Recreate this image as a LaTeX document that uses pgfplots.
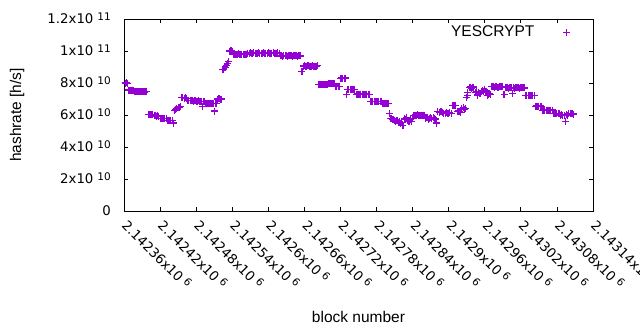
\documentclass[border=0pt]{standalone}
\usepackage{pgfplots}
\pgfplotsset{compat=1.18}
\usepackage{fontspec}
\setmainfont{Liberation Sans}
\newfontfamily\tickfont{DejaVu Sans}
\definecolor{dv}{RGB}{148,0,211}
\newcommand{\xl}[1]{#1x10\hspace{4pt}\raisebox{3.5pt}{\fontsize{10.5}{12}\selectfont 6}}
\newcommand{\yl}[2]{#1x10\hspace{4pt}\raisebox{3.5pt}{\fontsize{10.5}{12}\selectfont #2}}
\begin{document}
\begin{tikzpicture}
\useasboundingbox (-124pt,-119pt) rectangle (516pt,211pt);
\clip (-124pt,-119pt) rectangle (516pt,211pt);
\begin{axis}[
  scale only axis, width=469pt, height=192pt, at={(0pt,0pt)}, anchor=south west,
  xmin=0, xmax=780, ymin=0, ymax=12, clip=false,
  xtick={0,60,...,780},
  xticklabels={\xl{2.14236},\xl{2.14242},\xl{2.14248},\xl{2.14254},\xl{2.1426},\xl{2.14266},\xl{2.14272},\xl{2.14278},\xl{2.14284},\xl{2.1429},\xl{2.14296},\xl{2.14302},\xl{2.14308},\xl{2.14314}},
  ytick={0,2,...,12},
  yticklabels={0,\yl{2}{10},\yl{4}{10},\yl{6}{10},\yl{8}{10},\yl{1}{11},\yl{1.2}{11}},
  tick align=inside, major tick length=4pt, minor tick num=0,
  axis line style={line width=0.8pt},
  every tick/.style={line width=0.8pt, black},
  xticklabel style={font=\tickfont\fontsize{13.3}{15}\selectfont, inner sep=0pt, anchor=base west, xshift=-3pt, yshift=-15pt, rotate=-45},
  yticklabel style={font=\tickfont\fontsize{13.3}{15}\selectfont, inner sep=0pt, anchor=base east, xshift=-13pt, yshift=-4.7pt},
  every axis x label/.style={at={(axis description cs:0.5,0)}, yshift=-106pt, anchor=center},
  every axis y label/.style={at={(axis description cs:0,0.5)}, xshift=-107pt, rotate=90, anchor=center},
  label style={font=\fontsize{15.5}{18}\selectfont},
  xlabel={block number},
  ylabel={hashrate [h/s]},
  legend style={draw=none, fill=none, at={(0.952,0.932)}, anchor=east, font=\fontsize{15.5}{18}\selectfont, inner sep=0pt},
  legend plot pos=right,
  legend image code/.code={\draw[#1] plot coordinates {(30pt,0pt)}; \path (0pt,0pt) (33.5pt,0pt);},
]
\addplot[only marks, mark=+, mark size=3.5pt, color=dv, mark options={line width=1.1pt}] coordinates {
(2,8.0) (4,8.02) (6,7.98)
(8,7.56) (10,7.55) (12,7.54) (14,7.56) (16,7.55)
(18,7.46) (20,7.45) (22,7.44) (24,7.46) (26,7.45) (28,7.44) (30,7.45) (32,7.46) (34,7.44) (36,7.45) (38,7.45)
(40,6.05) (42,6.03) (44,6.02) (46,6.04) (48,6.03) (50,6.0)
(52,5.95) (54,5.93) (56,5.94) (58,5.92)
(60,5.79) (62,5.78) (64,5.77) (66,5.79) (68,5.78) (70,5.76)
(72,5.67) (74,5.66) (76,5.65) (78,5.67) (80,5.66) (82,5.5)
(84,6.3) (86,6.33) (88,6.38) (90,6.45) (92,6.5) (94,6.55)
(96,7.08) (98,7.1) (100,7.05) (102,7.07) (104,7.04)
(106,6.93) (108,6.92) (110,6.9) (112,6.93) (114,6.91)
(116,6.87) (118,6.88) (120,6.86) (122,6.87) (124,6.88) (126,6.86) (128,6.87) (130,6.55) (132,6.87) (134,6.85)
(136,6.72) (138,6.73) (140,6.71) (142,6.72) (144,6.74) (146,6.72) (148,6.71) (150,6.25) (152,6.72) (154,6.73)
(156,7.0) (158,7.02) (160,6.98) (162,7.0)
(164,8.85) (166,8.82) (168,8.95) (170,9.1) (172,9.2) (174,9.32)
(176,10.0) (178,10.02) (180,9.99)
(182,9.8) (184,9.81) (186,9.79) (188,9.8) (190,9.82) (192,9.8) (194,9.79) (196,9.81) (198,9.8) (200,9.8) (202,9.79) (204,9.81)
(206,9.86) (208,9.87) (210,9.88) (212,9.86) (214,9.87) (216,9.88) (218,9.87) (220,9.86) (222,9.87) (224,9.88) (226,9.87) (228,9.86) (230,9.87) (232,9.88) (234,9.87) (236,9.86) (238,9.87) (240,9.88) (242,9.87) (244,9.86) (246,9.87) (248,9.88) (250,9.87) (252,9.86) (254,9.87) (256,9.88) (258,9.86)
(260,9.69) (262,9.7) (264,9.68) (266,9.69) (268,9.7) (270,9.69) (272,9.68) (274,9.69) (276,9.7) (278,9.69) (280,9.68) (282,9.69) (284,9.7) (286,9.69) (288,9.68) (290,9.69) (292,9.7) (294,9.69)
(296,8.7) (298,9.06) (300,9.07) (302,9.05) (304,9.06) (306,9.07) (308,9.06) (310,9.05) (312,9.06) (314,9.07) (316,9.06) (318,9.05) (320,9.06) (322,9.07)
(324,7.9) (326,7.91) (328,7.89) (330,7.9) (332,7.92) (334,7.9) (336,7.89) (338,7.9)
(340,7.95) (342,7.96) (344,7.94) (346,7.95) (348,7.96) (350,7.94)
(352,7.8) (354,7.81) (356,7.79) (358,7.8)
(360,8.3) (362,8.31) (364,8.29) (366,8.3) (368,8.31)
(370,7.3)
(372,7.6) (374,7.61) (376,7.59) (378,7.6) (380,7.61) (382,7.6) (384,7.59)
(386,7.3) (388,7.31) (390,7.29) (392,7.3) (394,7.31) (396,7.3) (398,7.29) (400,7.3) (402,7.31) (404,7.3) (406,7.29) (408,7.3)
(410,6.85) (412,6.86) (414,6.84) (416,6.85) (418,6.86) (420,6.85) (422,6.84) (424,6.85) (426,6.86) (428,6.85)
(430,6.7) (432,6.71) (434,6.69) (436,6.7) (438,6.71) (440,6.7)
(442,6.1) (444,5.78) (446,5.72) (448,5.75) (450,5.68) (452,5.6) (454,5.65) (456,5.55) (458,5.6) (460,5.5) (462,5.55) (464,5.35)
(466,5.8) (468,5.75) (470,5.85) (472,5.65) (474,5.6) (476,5.7) (478,5.6) (480,5.8)
(482,5.95) (484,6.0) (486,5.98) (488,6.02) (490,6.0) (492,5.95) (494,6.0) (496,5.97) (498,6.0) (500,5.95)
(502,5.8) (504,5.85) (506,5.75) (508,5.8) (510,5.82) (512,5.78) (514,5.85) (516,5.8) (518,5.75) (520,5.5)
(522,6.2) (524,6.15) (526,6.22) (528,6.2) (530,6.15) (532,6.1) (534,6.12) (536,6.15) (538,6.1) (540,6.12) (542,6.15) (544,6.1)
(546,6.6) (548,6.58) (550,6.62) (552,6.6) (554,6.2) (556,6.25) (558,6.2) (560,6.15) (562,6.4) (564,6.45) (566,6.35) (568,6.4)
(570,7.08) (571,7.4) (572,7.2) (574,7.7) (576,7.75) (578,7.65) (580,7.7) (582,7.75) (584,7.4) (586,7.45) (588,7.25) (590,7.4) (592,7.35) (594,7.5) (596,7.55) (598,7.5) (600,7.6) (602,7.5) (604,7.2) (606,7.3) (608,7.35) (610,7.28)
(612,7.78) (614,7.8) (616,7.75) (618,7.78) (620,7.8) (622,7.75) (624,7.78) (626,7.8) (628,7.76) (630,7.78) (632,7.3)
(634,7.7) (636,7.72) (638,7.7) (640,7.68) (642,7.7) (644,7.72) (646,7.35) (648,7.7) (650,7.68) (652,7.7) (654,7.72) (656,7.7) (658,7.68) (660,7.7) (662,7.72) (664,7.7) (666,7.69)
(668,7.2) (670,7.22) (672,7.23) (674,7.21) (676,7.22) (678,7.23) (680,7.22) (682,7.21)
(684,6.55) (686,6.56) (688,6.54) (690,6.55) (692,6.56) (694,6.55)
(696,6.3) (698,6.31) (700,6.29) (702,6.3) (704,6.31) (706,6.3) (708,6.29) (710,6.3) (712,6.31)
(714,6.1) (716,6.11) (718,6.09) (720,6.1) (722,6.11) (724,6.1)
(726,6.0) (728,6.01) (730,5.99) (732,6.0) (734,5.58) (736,6.01) (738,5.99)
(740,6.08) (742,6.1) (744,6.07) (746,6.12) (748,6.06)
};
\addlegendentry{YESCRYPT}
\end{axis}
\end{tikzpicture}
\end{document}
